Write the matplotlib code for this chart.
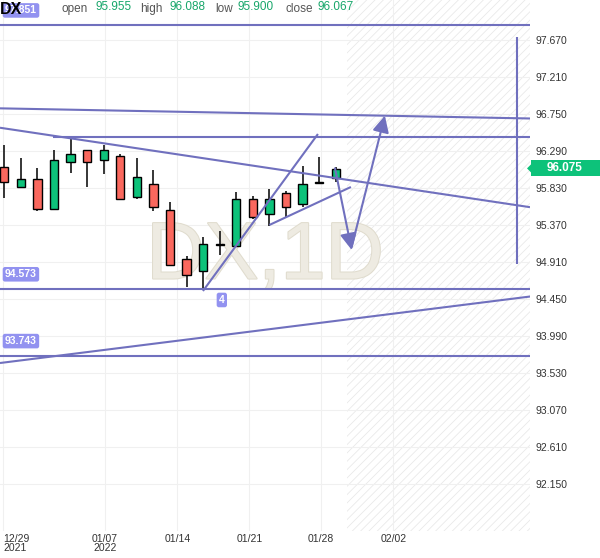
import numpy as np
import matplotlib.pyplot as plt
from matplotlib import patheffects, transforms
from matplotlib.patches import Polygon, Rectangle

plt.rcParams['font.family'] = ['Liberation Sans', 'DejaVu Sans']
plt.rcParams['hatch.linewidth'] = 0.6

# daily candles, index 0 = 12/29/2021
opens  = [96.096, 95.840, 95.939, 95.567, 96.158, 96.300, 96.175, 96.223, 95.716, 95.877, 95.554,
          94.945, 94.796, 95.120, 95.114, 95.691, 95.505, 95.765, 95.636, 95.890, 95.955]
highs  = [96.366, 96.200, 96.076, 96.303, 96.440, 96.300, 96.366, 96.250, 96.200, 96.055, 95.661,
          94.986, 95.219, 95.301, 95.778, 95.736, 95.815, 95.798, 96.101, 96.220, 96.088]
lows   = [95.703, 95.835, 95.542, 95.560, 96.014, 95.847, 96.001, 95.678, 95.695, 95.542, 94.858,
          94.605, 94.573, 94.999, 95.104, 95.446, 95.363, 95.462, 95.592, 95.875, 95.900]
closes = [95.902, 95.939, 95.567, 96.175, 96.250, 96.151, 96.300, 95.691, 95.964, 95.592, 94.875,
          94.747, 95.132, 95.132, 95.691, 95.467, 95.691, 95.599, 95.877, 95.895, 96.067]

price_ticks = [97.670, 97.210, 96.750, 96.290, 95.830, 95.370, 94.910,
               94.450, 93.990, 93.530, 93.070, 92.610, 92.150]
date_pos = [-0.06, 6.08, 10.44, 14.79, 19.11, 23.48]
date_labels = ['12/29\n2021', '01/07\n2022', '01/14', '01/21', '01/28', '02/02']

# drawings on the chart
levels = [97.851, 94.573, 93.743]
upper_level = (2.95, 96.461)
trend_lines = [
    ((-0.26, 96.821), (31.73, 96.695)),
    ((-0.26, 96.580), (31.73, 95.593)),
    ((-0.26, 93.657), (31.73, 94.483)),
    ((30.92, 94.887), (30.92, 97.707)),
    ((11.99, 94.552), (18.93, 96.502)),
    ((16.00, 95.372), (20.92, 95.844)),
]
arrows = [((19.96, 96.076), (20.97, 95.061)),
          ((20.97, 95.102), (22.97, 96.730))]
future_start = 20.7
live_price = 96.075
header = [('open', '95.955'), ('high', '96.088'), ('low', '95.900'), ('close', '96.067')]

green = '#0DC27A'
red = '#FA685E'
line_c = '#7070BE'
tag_c = '#9292F0'

fig = plt.figure(figsize=(6, 5.58), dpi=100, facecolor='white')
ax = fig.add_axes([0, 27/558, 530/600, 531/558])
xlim = (-0.26, 31.73)
ylim = (91.57, 98.167)

for s in ax.spines.values():
    s.set_visible(False)
ax.grid(color='#f0f0f0', lw=0.8, zorder=0)
ax.set_axisbelow(True)

ax.axvspan(future_start, xlim[1], facecolor='none', hatch='////', edgecolor='#e9e9e9', lw=0, zorder=0.5)

ax.text(0.5, 0.515, 'DX,1D', transform=ax.transAxes, fontsize=58, color='#EEEBE2',
        ha='center', va='center', zorder=1,
        path_effects=[patheffects.withStroke(linewidth=1.5, foreground='#E0DCCE')])

x = np.arange(len(opens))
o, h, l, c = map(np.array, (opens, highs, lows, closes))
cols = np.where(c >= o, green, red)
ax.vlines(x, l, h, color='black', lw=1.1, zorder=3)
ax.bar(x, np.maximum(np.abs(c - o), 0.02), bottom=np.minimum(o, c), width=0.5,
       color=cols, edgecolor='black', lw=1, zorder=4)

lw = 1.5
for lv in levels:
    ax.axhline(lv, color=line_c, lw=lw, zorder=5)
ax.hlines(upper_level[1], upper_level[0], xlim[1], color=line_c, lw=lw, zorder=5)
for (x0, y0), (x1, y1) in trend_lines:
    ax.plot([x0, x1], [y0, y1], color=line_c, lw=lw, zorder=5, solid_capstyle='butt')
for start, end in arrows:
    ax.annotate('', xy=end, xytext=start,
                arrowprops=dict(arrowstyle='-|>,head_length=0.5,head_width=0.25', color=line_c,
                                lw=lw, mutation_scale=20, shrinkA=0, shrinkB=0), zorder=6)

tag = dict(color='white', fontsize=7.5, fontweight='bold', ha='left', va='center',
           bbox=dict(boxstyle='round,pad=0.22', fc=tag_c, ec='none'), zorder=7)
for lv in levels:
    ax.annotate(f'{lv:.3f}', xy=(0, lv), xycoords=ax.get_yaxis_transform(),
                xytext=(5, 15), textcoords='offset pixels', **tag)
ax.annotate('4', xy=trend_lines[4][0], xytext=(16, -9), textcoords='offset pixels', **tag)

ax.set_xlim(*xlim)
ax.set_ylim(*ylim)
ax.yaxis.tick_right()
ax.set_yticks(price_ticks)
ax.set_yticklabels([f'{t:.3f}' for t in price_ticks])
ax.set_xticks(date_pos)
ax.set_xticklabels(date_labels, linespacing=0.95)
ax.get_xticklabels()[0].set_ha('left')
ax.tick_params(axis='y', length=0, pad=4, labelsize=7.5, labelcolor='#333333')
ax.tick_params(axis='x', length=0, pad=2, labelsize=7.5, labelcolor='#333333')

# live price tag on the price scale
trans = transforms.blended_transform_factory(fig.transFigure, ax.transData)
ax.add_patch(Rectangle((531/600, live_price - 0.1), 69/600, 0.2, transform=trans,
                       fc=green, ec='none', clip_on=False, zorder=8))
ax.add_patch(Polygon([(531/600, live_price + 0.05), (527/600, live_price), (531/600, live_price - 0.05)],
                     transform=trans, fc=green, ec='none', clip_on=False, zorder=8))
ax.text(565/600, live_price, f'{live_price:.3f}', transform=trans, ha='center', va='center',
        color='white', fontsize=8.5, fontweight='bold', zorder=9, clip_on=False)

# header line
fig.text(0.0, 1 - 14/558, 'DX', fontsize=11.5, fontweight='bold', va='baseline')
xs = [(62, 95), (140, 169), (215, 238), (285, 318)]
for (name, val), (xn, xv) in zip(header, xs):
    fig.text(xn/600, 1 - 12/558, name, fontsize=8.5, color='#555555', va='baseline')
    fig.text(xv/600, 1 - 10/558, val, fontsize=8.5, color='#17A66A', va='baseline')

fig.savefig('out.png', dpi=100)
